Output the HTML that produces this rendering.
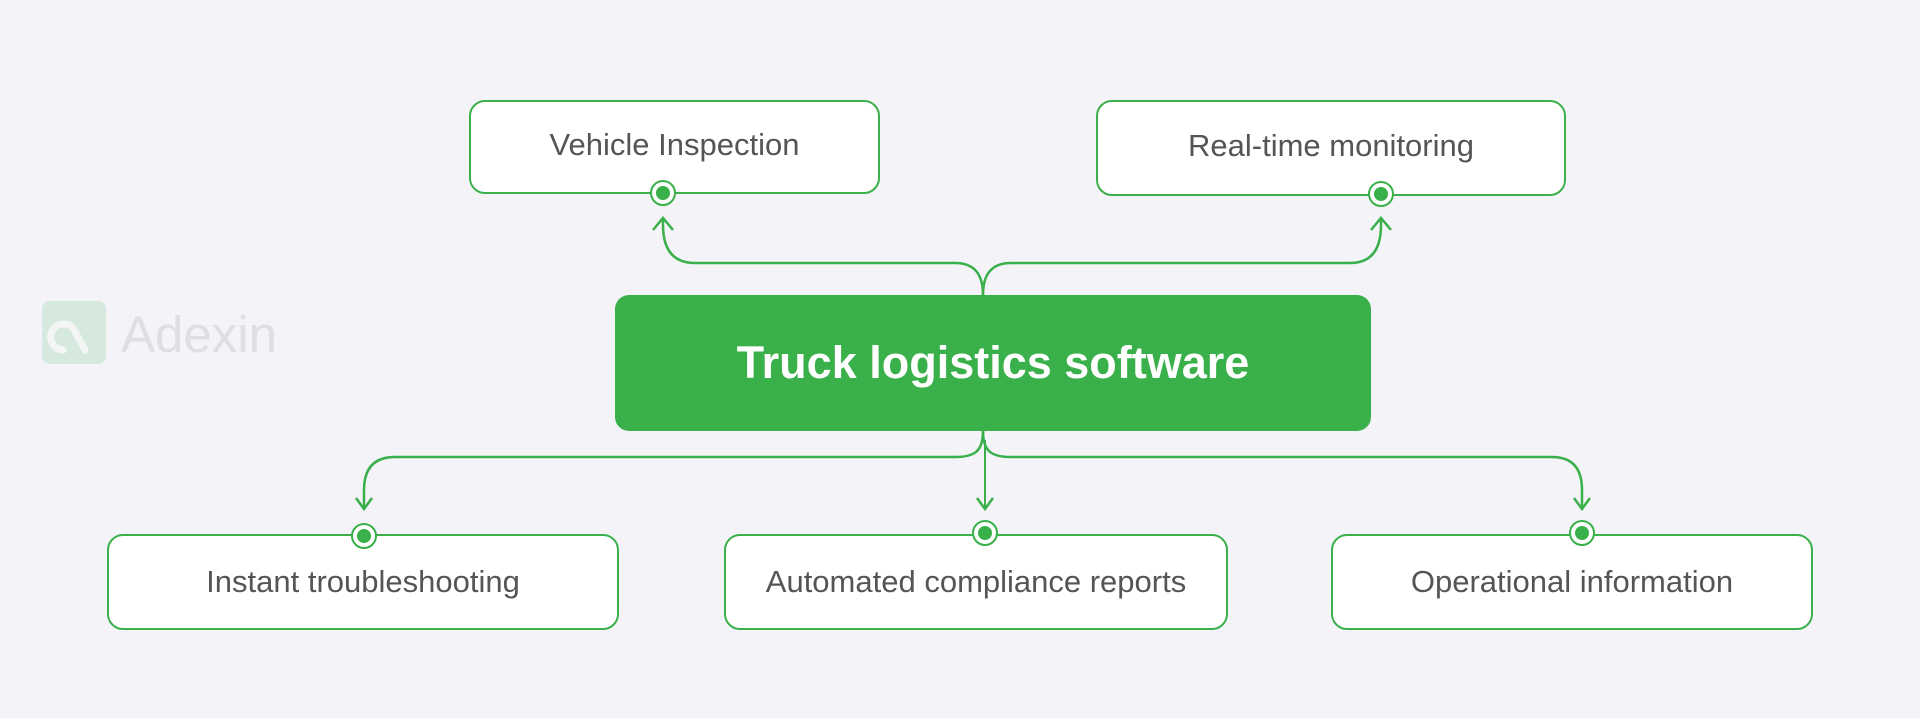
<!DOCTYPE html>
<html><head><meta charset="utf-8"><style>
html,body{margin:0;padding:0}
body{width:1920px;height:718px;background:#f3f3f8;position:relative;overflow:hidden;font-family:"Liberation Sans",sans-serif}
.box{position:absolute;background:#fff;border:2px solid #3bb04b;border-radius:16px;box-sizing:border-box;display:flex;align-items:center;justify-content:center;color:#555;font-size:31px}
.center{position:absolute;left:615px;top:295px;width:756px;height:136px;background:#39b04a;border-radius:14px;color:#fff;font-weight:bold;font-size:45px;display:flex;align-items:center;justify-content:center}
svg{position:absolute;left:0;top:0}
</style></head><body>
<div class="box" style="left:469px;top:100px;width:411px;height:94px;padding-bottom:4px">Vehicle Inspection</div>
<div class="box" style="left:1096px;top:100px;width:470px;height:96px;padding-bottom:4px">Real-time monitoring</div>
<div class="center">Truck logistics software</div>
<div class="box" style="left:107px;top:534px;width:512px;height:96px">Instant troubleshooting</div>
<div class="box" style="left:724px;top:534px;width:504px;height:96px">Automated compliance reports</div>
<div class="box" style="left:1331px;top:534px;width:482px;height:96px">Operational information</div>
<div style="position:absolute;left:42px;top:301px;width:64px;height:63px;background:#d6e9de;border-radius:8px"></div>
<svg width="1920" height="718" style="pointer-events:none">
<path d="M63 350 a13 13 0 1 1 10 -22 l12 22" fill="none" stroke="#f3f6f4" stroke-width="7" stroke-linecap="round"/>
<text x="121" y="352" font-family="Liberation Sans" font-size="51" fill="#dedee3">Adexin</text>
<g fill="none" stroke="#39b04a" stroke-width="2.5">
<path d="M983 295 C983 275 975 263 955 263 L695 263 Q663 263 663 225 L663 218"/>
<path d="M983 295 C983 275 991 263 1011 263 L1350 263 Q1381 263 1381 225 L1381 218"/>
<path d="M653 230 L663 218 L673 230"/>
<path d="M1371 230 L1381 218 L1391 230"/>
<path d="M983 431 C983 451 975 457 955 457 L395 457 Q364 457 364 490 L364 508"/>
<path d="M983 431 C983 451 991 457 1011 457 L1552 457 Q1582 457 1582 490 L1582 508"/>
<path d="M985 440 L985 508" stroke-width="2"/>
<path d="M356 498 L364 509 L372 498"/>
<path d="M977 498 L985 509 L993 498"/>
<path d="M1574 498 L1582 509 L1590 498"/>
</g>
<g>
<circle cx="663" cy="193" r="12" fill="#fff" stroke="#39b04a" stroke-width="2"/><circle cx="663" cy="193" r="7" fill="#39b04a"/>
<circle cx="1381" cy="194" r="12" fill="#fff" stroke="#39b04a" stroke-width="2"/><circle cx="1381" cy="194" r="7" fill="#39b04a"/>
<circle cx="364" cy="536" r="12" fill="#fff" stroke="#39b04a" stroke-width="2"/><circle cx="364" cy="536" r="7" fill="#39b04a"/>
<circle cx="985" cy="533" r="12" fill="#fff" stroke="#39b04a" stroke-width="2"/><circle cx="985" cy="533" r="7" fill="#39b04a"/>
<circle cx="1582" cy="533" r="12" fill="#fff" stroke="#39b04a" stroke-width="2"/><circle cx="1582" cy="533" r="7" fill="#39b04a"/>
</g>
</svg>
</body></html>
